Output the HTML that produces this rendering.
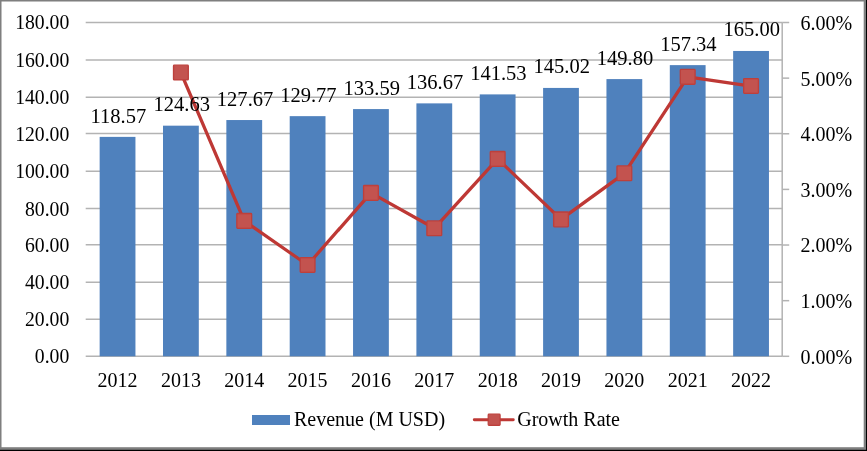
<!DOCTYPE html><html><head><meta charset="utf-8"><style>html,body{margin:0;padding:0;background:#fff}body{width:867px;height:451px;overflow:hidden}svg{display:block}text{font-family:"Liberation Serif",serif;font-size:20px;fill:#000}.dl{font-size:21.33px}</style></head><body>
<svg width="867" height="451" viewBox="0 0 867 451">
<rect x="0" y="0" width="867" height="451" fill="#fff"/>
<defs><filter id="b" x="-2%" y="-2%" width="104%" height="104%"><feGaussianBlur stdDeviation="0.6"/></filter></defs><g filter="url(#b)">
<line x1="85.7" y1="356.30" x2="782.2" y2="356.30" stroke="#b3b3b3" stroke-width="1.5"/>
<line x1="85.7" y1="319.30" x2="782.2" y2="319.30" stroke="#b3b3b3" stroke-width="1.5"/>
<line x1="85.7" y1="282.25" x2="782.2" y2="282.25" stroke="#b3b3b3" stroke-width="1.5"/>
<line x1="85.7" y1="244.65" x2="782.2" y2="244.65" stroke="#b3b3b3" stroke-width="1.5"/>
<line x1="85.7" y1="208.60" x2="782.2" y2="208.60" stroke="#b3b3b3" stroke-width="1.5"/>
<line x1="85.7" y1="171.20" x2="782.2" y2="171.20" stroke="#b3b3b3" stroke-width="1.5"/>
<line x1="85.7" y1="133.60" x2="782.2" y2="133.60" stroke="#b3b3b3" stroke-width="1.5"/>
<line x1="85.7" y1="97.25" x2="782.2" y2="97.25" stroke="#b3b3b3" stroke-width="1.5"/>
<line x1="85.7" y1="60.10" x2="782.2" y2="60.10" stroke="#b3b3b3" stroke-width="1.5"/>
<line x1="85.7" y1="22.50" x2="782.2" y2="22.50" stroke="#b3b3b3" stroke-width="1.5"/>
<line x1="782.2" y1="22.5" x2="782.2" y2="356.3" stroke="#b3b3b3" stroke-width="1.5"/>
<line x1="782.2" y1="356.30" x2="789.2" y2="356.30" stroke="#b3b3b3" stroke-width="1.5"/>
<line x1="782.2" y1="300.67" x2="789.2" y2="300.67" stroke="#b3b3b3" stroke-width="1.5"/>
<line x1="782.2" y1="245.03" x2="789.2" y2="245.03" stroke="#b3b3b3" stroke-width="1.5"/>
<line x1="782.2" y1="189.40" x2="789.2" y2="189.40" stroke="#b3b3b3" stroke-width="1.5"/>
<line x1="782.2" y1="133.77" x2="789.2" y2="133.77" stroke="#b3b3b3" stroke-width="1.5"/>
<line x1="782.2" y1="78.13" x2="789.2" y2="78.13" stroke="#b3b3b3" stroke-width="1.5"/>
<line x1="782.2" y1="22.50" x2="789.2" y2="22.50" stroke="#b3b3b3" stroke-width="1.5"/>
<rect x="99.65" y="136.88" width="35.8" height="219.42" fill="#4f81bd"/>
<rect x="163.00" y="125.67" width="35.8" height="230.63" fill="#4f81bd"/>
<rect x="226.35" y="120.04" width="35.8" height="236.26" fill="#4f81bd"/>
<rect x="289.70" y="116.15" width="35.8" height="240.15" fill="#4f81bd"/>
<rect x="353.05" y="109.08" width="35.8" height="247.22" fill="#4f81bd"/>
<rect x="416.40" y="103.38" width="35.8" height="252.92" fill="#4f81bd"/>
<rect x="479.75" y="94.39" width="35.8" height="261.91" fill="#4f81bd"/>
<rect x="543.10" y="87.93" width="35.8" height="268.37" fill="#4f81bd"/>
<rect x="606.45" y="79.09" width="35.8" height="277.21" fill="#4f81bd"/>
<rect x="669.80" y="65.13" width="35.8" height="291.17" fill="#4f81bd"/>
<rect x="733.15" y="50.96" width="35.8" height="305.34" fill="#4f81bd"/>
<polyline points="180.90,72.56 244.25,220.88 307.60,264.98 370.95,192.88 434.30,228.30 497.65,158.88 561.00,219.40 624.35,173.31 687.70,76.86 751.05,86.02" fill="none" stroke="#be3834" stroke-width="3.3" stroke-linejoin="round"/>
<rect x="173.50" y="65.16" width="14.8" height="14.8" rx="0.8" fill="#c3524f" stroke="#bd3f3b" stroke-width="1.3"/>
<rect x="236.85" y="213.48" width="14.8" height="14.8" rx="0.8" fill="#c3524f" stroke="#bd3f3b" stroke-width="1.3"/>
<rect x="300.20" y="257.58" width="14.8" height="14.8" rx="0.8" fill="#c3524f" stroke="#bd3f3b" stroke-width="1.3"/>
<rect x="363.55" y="185.48" width="14.8" height="14.8" rx="0.8" fill="#c3524f" stroke="#bd3f3b" stroke-width="1.3"/>
<rect x="426.90" y="220.90" width="14.8" height="14.8" rx="0.8" fill="#c3524f" stroke="#bd3f3b" stroke-width="1.3"/>
<rect x="490.25" y="151.48" width="14.8" height="14.8" rx="0.8" fill="#c3524f" stroke="#bd3f3b" stroke-width="1.3"/>
<rect x="553.60" y="212.00" width="14.8" height="14.8" rx="0.8" fill="#c3524f" stroke="#bd3f3b" stroke-width="1.3"/>
<rect x="616.95" y="165.91" width="14.8" height="14.8" rx="0.8" fill="#c3524f" stroke="#bd3f3b" stroke-width="1.3"/>
<rect x="680.30" y="69.46" width="14.8" height="14.8" rx="0.8" fill="#c3524f" stroke="#bd3f3b" stroke-width="1.3"/>
<rect x="743.65" y="78.62" width="14.8" height="14.8" rx="0.8" fill="#c3524f" stroke="#bd3f3b" stroke-width="1.3"/>
<text class="dl" transform="translate(118.40,122.88) scale(0.963,1)" text-anchor="middle">118.57</text>
<text class="dl" transform="translate(181.73,111.17) scale(0.963,1)" text-anchor="middle">124.63</text>
<text class="dl" transform="translate(245.06,105.54) scale(0.963,1)" text-anchor="middle">127.67</text>
<text class="dl" transform="translate(308.39,101.65) scale(0.963,1)" text-anchor="middle">129.77</text>
<text class="dl" transform="translate(371.72,94.58) scale(0.963,1)" text-anchor="middle">133.59</text>
<text class="dl" transform="translate(435.05,88.88) scale(0.963,1)" text-anchor="middle">136.67</text>
<text class="dl" transform="translate(498.38,79.89) scale(0.963,1)" text-anchor="middle">141.53</text>
<text class="dl" transform="translate(561.71,73.43) scale(0.963,1)" text-anchor="middle">145.02</text>
<text class="dl" transform="translate(625.04,64.59) scale(0.963,1)" text-anchor="middle">149.80</text>
<text class="dl" transform="translate(688.37,50.63) scale(0.963,1)" text-anchor="middle">157.34</text>
<text class="dl" transform="translate(751.70,36.46) scale(0.963,1)" text-anchor="middle">165.00</text>
<text transform="translate(69.3,363.20) scale(0.985,1)" text-anchor="end">0.00</text>
<text transform="translate(69.3,326.20) scale(0.985,1)" text-anchor="end">20.00</text>
<text transform="translate(69.3,289.15) scale(0.985,1)" text-anchor="end">40.00</text>
<text transform="translate(69.3,251.55) scale(0.985,1)" text-anchor="end">60.00</text>
<text transform="translate(69.3,215.50) scale(0.985,1)" text-anchor="end">80.00</text>
<text transform="translate(69.3,178.10) scale(0.985,1)" text-anchor="end">100.00</text>
<text transform="translate(69.3,140.50) scale(0.985,1)" text-anchor="end">120.00</text>
<text transform="translate(69.3,104.15) scale(0.985,1)" text-anchor="end">140.00</text>
<text transform="translate(69.3,67.00) scale(0.985,1)" text-anchor="end">160.00</text>
<text transform="translate(69.3,29.40) scale(0.985,1)" text-anchor="end">180.00</text>
<text x="800.5" y="363.70">0.00%</text>
<text x="800.5" y="308.07">1.00%</text>
<text x="800.5" y="252.43">2.00%</text>
<text x="800.5" y="196.80">3.00%</text>
<text x="800.5" y="141.17">4.00%</text>
<text x="800.5" y="85.53">5.00%</text>
<text x="800.5" y="29.90">6.00%</text>
<text x="117.55" y="387" text-anchor="middle">2012</text>
<text x="180.90" y="387" text-anchor="middle">2013</text>
<text x="244.25" y="387" text-anchor="middle">2014</text>
<text x="307.60" y="387" text-anchor="middle">2015</text>
<text x="370.95" y="387" text-anchor="middle">2016</text>
<text x="434.30" y="387" text-anchor="middle">2017</text>
<text x="497.65" y="387" text-anchor="middle">2018</text>
<text x="561.00" y="387" text-anchor="middle">2019</text>
<text x="624.35" y="387" text-anchor="middle">2020</text>
<text x="687.70" y="387" text-anchor="middle">2021</text>
<text x="751.05" y="387" text-anchor="middle">2022</text>
<rect x="252" y="415" width="38" height="10" fill="#4f81bd"/>
<text x="294" y="425.8">Revenue (M USD)</text>
<line x1="474.3" y1="419.8" x2="513.3" y2="419.8" stroke="#be3834" stroke-width="2.9" stroke-linecap="round"/>
<rect x="488.2" y="414.2" width="11.9" height="11.1" rx="0.8" fill="#c3524f" stroke="#bd3f3b" stroke-width="1.2"/>
<text x="517.2" y="426">Growth Rate</text>
<rect x="-5" y="-5" width="877" height="6.5" fill="#7f7f7f"/>
<rect x="-5" y="-5" width="6.5" height="461" fill="#7f7f7f"/>
<rect x="863.7" y="-5" width="10" height="461" fill="#7f7f7f"/>
<rect x="-5" y="447.2" width="877" height="10" fill="#7f7f7f"/>
<rect x="866" y="-5" width="10" height="461" fill="#000"/>
<rect x="-5" y="449.8" width="877" height="10" fill="#000"/>
</g>
</svg></body></html>
